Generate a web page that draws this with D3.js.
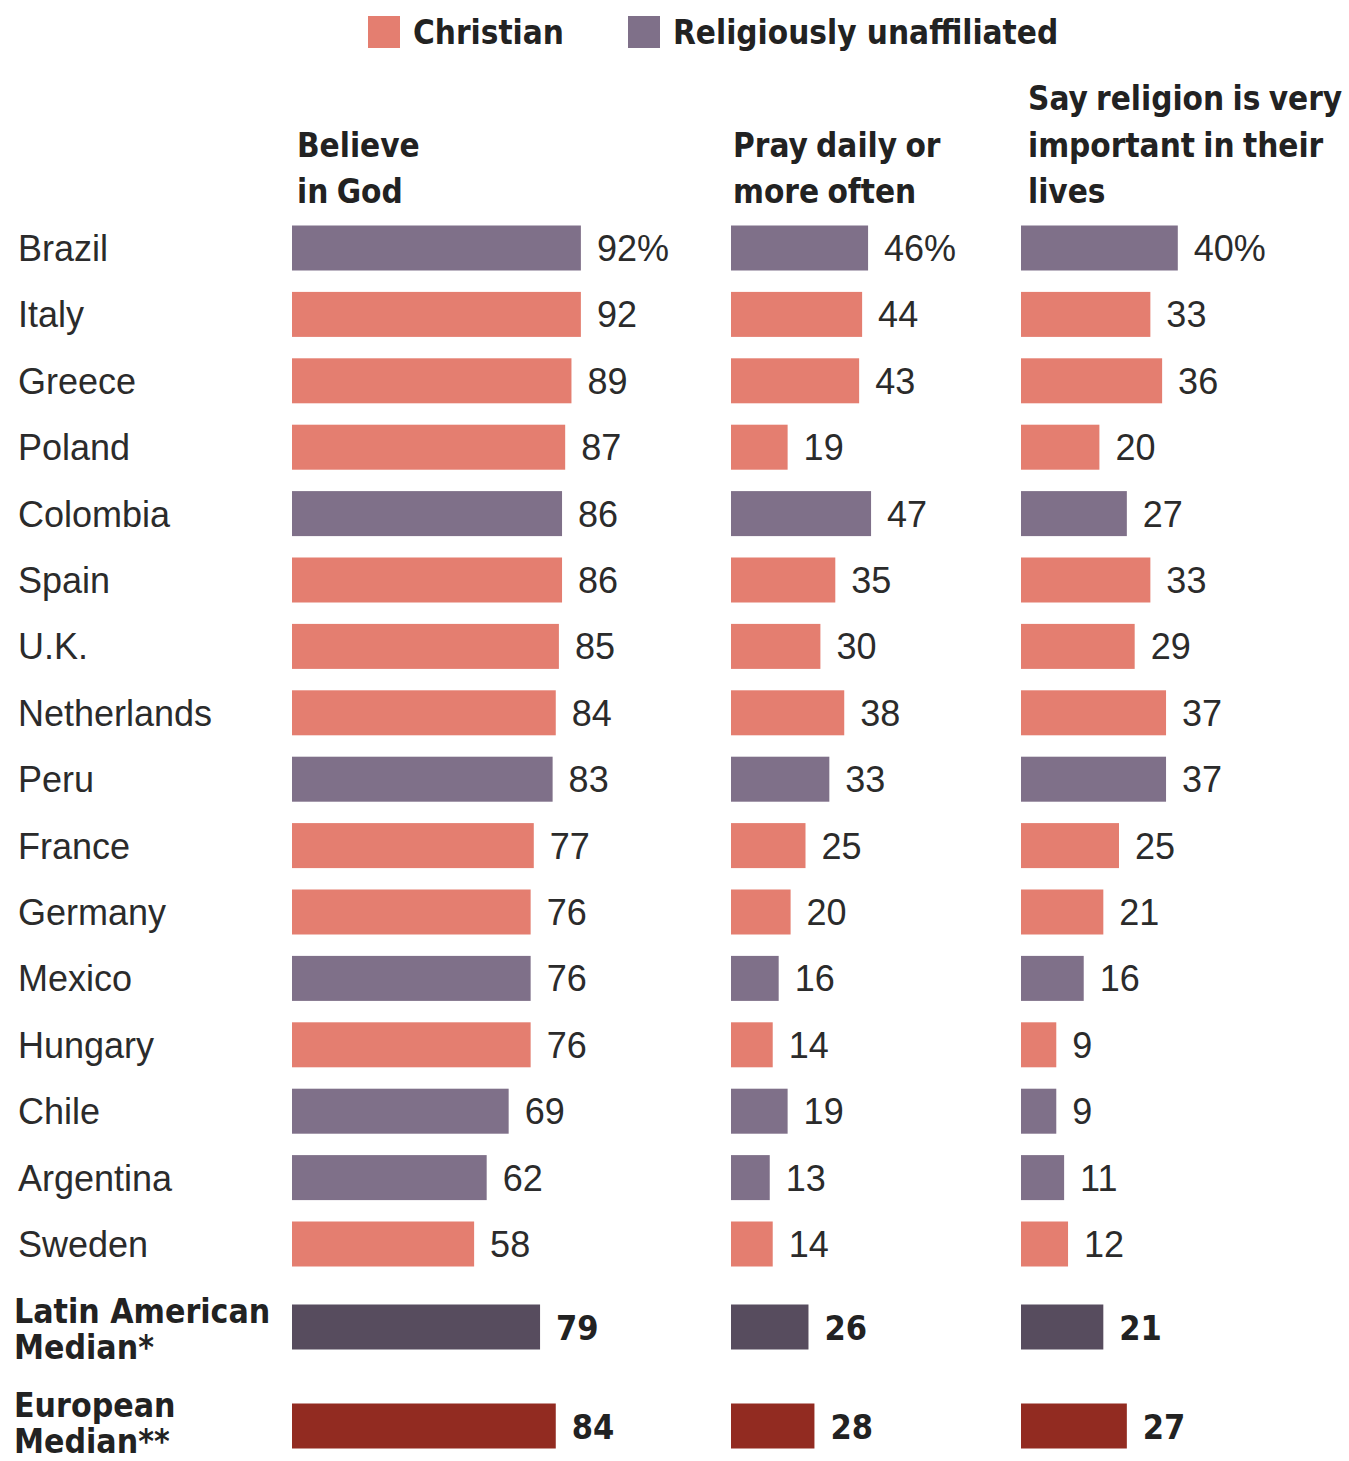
<!DOCTYPE html>
<html>
<head>
<meta charset="utf-8">
<script src="https://cdn.jsdelivr.net/npm/d3@7"></script>
<style>
  html, body { margin: 0; padding: 0; background: #ffffff; }
  svg { display: block; }
  .bold { font-family: "DejaVu Sans Condensed", "DejaVu Sans", sans-serif; font-stretch: condensed; font-weight: bold; fill: #222222; }
  .reg { font-family: "Liberation Sans", Arial, sans-serif; fill: #2b2b2b; }
</style>
</head>
<body>
<svg id="chart" width="1349" height="1461"></svg>
<script>
// ---- data ----
const countries = ["Brazil","Italy","Greece","Poland","Colombia","Spain","U.K.","Netherlands","Peru","France","Germany","Mexico","Hungary","Chile","Argentina","Sweden"];
const affiliation = ["Religiously unaffiliated","Christian","Christian","Christian","Religiously unaffiliated","Christian","Christian","Christian","Religiously unaffiliated","Christian","Christian","Religiously unaffiliated","Christian","Religiously unaffiliated","Religiously unaffiliated","Christian"];
const believeInGod = [92,92,89,87,86,86,85,84,83,77,76,76,76,69,62,58];
const prayDaily = [46,44,43,19,47,35,30,38,33,25,20,16,14,19,13,14];
const religionImportant = [40,33,36,20,27,33,29,37,37,25,21,16,9,9,11,12];
const medianNames = ["Latin American Median","European Median"];
const medianLabelLines = [["Latin American","Median*"],["European","Median**"]];
const medianBelieve = [79,84];
const medianPray = [26,28];
const medianImportant = [21,27];
const columnTitles = [["Believe","in God"],["Pray daily or","more often"],["Say religion is very","important in their","lives"]];
const legendLabels = ["Christian","Religiously unaffiliated"];

// ---- styles ----
const colorByGroup = d3.scaleOrdinal().domain(legendLabels).range(["#e47e70","#7f7089"]);
const medianColors = d3.scaleOrdinal().domain(medianNames).range(["#574c5e","#922b21"]);

const svg = d3.select("#chart");

// scales
const xScales = [
  d3.scaleLinear().domain([0,100]).range([292, 292 + 314]),
  d3.scaleLinear().domain([0,100]).range([731, 731 + 298]),
  d3.scaleLinear().domain([0,100]).range([1021, 1021 + 392])
];
const series = [believeInGod, prayDaily, religionImportant];
const medianSeries = [medianBelieve, medianPray, medianImportant];
const titleX = [297, 733, 1028];

const y = d3.scalePoint().domain(countries).range([248, 1244]);
const yMed = d3.scalePoint().domain(medianNames).range([1327, 1426]);
const barH = 45;

// legend
const legend = svg.append("g");
const legendPos = [{sx:368, tx:413},{sx:628, tx:673}];
legendLabels.forEach((lab,i) => {
  legend.append("rect").attr("x", legendPos[i].sx).attr("y", 16).attr("width", 32).attr("height", 32).attr("fill", colorByGroup(lab));
  legend.append("text").attr("class","bold").attr("x", legendPos[i].tx).attr("y", 44).attr("font-size", 33).text(lab);
});

// column titles
columnTitles.forEach((lines, c) => {
  const n = lines.length;
  lines.forEach((ln, j) => {
    svg.append("text").attr("class","bold")
      .attr("x", titleX[c])
      .attr("y", 203 - (n - 1 - j) * 46.5)
      .attr("font-size", 33)
      .attr("word-spacing", "-2px")
      .text(ln);
  });
});

// country labels
svg.append("g").selectAll("text").data(countries).join("text")
  .attr("class","reg")
  .attr("x", 18)
  .attr("y", d => y(d) + 13)
  .attr("font-size", 36)
  .text(d => d);

// median labels
const medLabelTop = [1323, 1417];
medianNames.forEach((m, i) => {
  medianLabelLines[i].forEach((ln, j) => {
    svg.append("text").attr("class","bold")
      .attr("x", 14)
      .attr("y", medLabelTop[i] + j * 36)
      .attr("font-size", 33.5)
      .text(ln);
  });
});

// bars
series.forEach((vals, c) => {
  const x = xScales[c];
  const g = svg.append("g");
  const rows = countries.map((name, i) => ({name, v: vals[i], grp: affiliation[i], i}));
  g.selectAll("rect").data(rows).join("rect")
    .attr("x", x(0))
    .attr("y", d => y(d.name) - barH / 2)
    .attr("width", d => x(d.v) - x(0))
    .attr("height", barH)
    .attr("fill", d => colorByGroup(d.grp));
  g.selectAll("text").data(rows).join("text")
    .attr("class","reg")
    .attr("x", d => x(d.v) + 16)
    .attr("y", d => y(d.name) + 13)
    .attr("font-size", 36)
    .text(d => d.i === 0 ? d.v + "%" : d.v);

  const meds = medianNames.map((m, i) => ({m, v: medianSeries[c][i]}));
  const gm = svg.append("g");
  gm.selectAll("rect").data(meds).join("rect")
    .attr("x", x(0))
    .attr("y", d => yMed(d.m) - barH / 2)
    .attr("width", d => x(d.v) - x(0))
    .attr("height", barH)
    .attr("fill", d => medianColors(d.m));
  gm.selectAll("text").data(meds).join("text")
    .attr("class","bold")
    .attr("x", d => x(d.v) + 16)
    .attr("y", d => yMed(d.m) + 13)
    .attr("font-size", 34)
    .text(d => d.v);
});
</script>
</body>
</html>
